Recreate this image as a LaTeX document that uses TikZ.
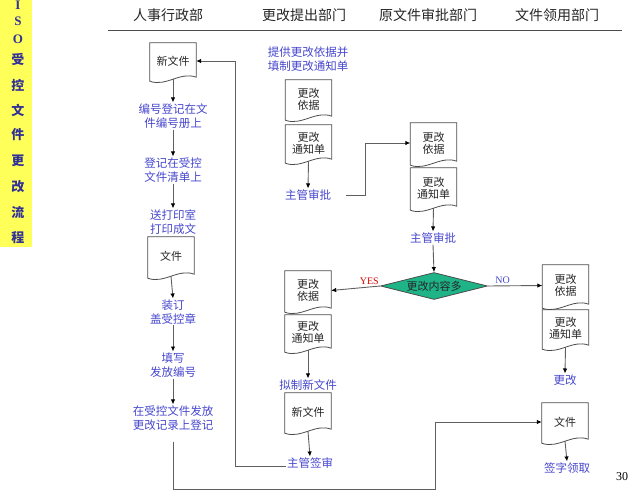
\documentclass[tikz,border=0pt]{standalone}
\usepackage{fontspec}
\setmainfont{Liberation Serif}
\newfontfamily\cjk{Noto Sans CJK SC}
\usetikzlibrary{shapes.geometric,arrows.meta}
\definecolor{lblue}{RGB}{70,70,205}
\definecolor{sbblue}{RGB}{50,50,150}
\definecolor{ylw}{RGB}{255,255,90}
\definecolor{dmd}{RGB}{30,180,135}
\definecolor{lnc}{RGB}{95,95,95}
\newcommand\docshape[1]{\draw[docline] (#1.north west) -- (#1.north east) -- ([yshift=2pt]#1.south east) .. controls ([xshift=-16pt,yshift=8pt]#1.south east) and ([xshift=16pt,yshift=-8pt]#1.south west) .. ([yshift=-2pt]#1.south west) -- cycle;}
\begin{document}
\begin{tikzpicture}[x=1pt,y=-1pt,
  docbox/.style={rectangle, minimum width=46pt, inner sep=0pt, font=\cjk\fontsize{11}{12}\selectfont, align=center, text=black!85},
  lbl/.style={font=\cjk\fontsize{11.5}{14}\selectfont, text=lblue, align=center, inner sep=1pt},
  hdr/.style={font=\cjk\fontsize{14}{16}\selectfont, text=black!85},
  sbc/.style={font=\cjk\bfseries\fontsize{13}{14}\selectfont, text=sbblue, inner sep=0pt},
  sbl/.style={font=\bfseries\fontsize{13}{14}\selectfont, text=sbblue, inner sep=0pt},
  conn/.style={draw=lnc, line width=0.9pt},
  arr/.style={conn, -{Latex[length=5pt,width=4.5pt,color=black]}},
  docline/.style={draw=black!70, line width=0.8pt},
]
\useasboundingbox (0,0) rectangle (640,503);
% sidebar
\fill[ylw] (0,0) rectangle (32,247);
\foreach \yy/\ch [count=\i] in {5/I,21/S,39/O} \node[sbl] (sl\i) at (18,\yy) {\ch};
\foreach \yy/\ch [count=\i] in {59/受,85/控,110/文,135/件,161/更,187/改,212/流,238/程} \node[sbc] (sc\i) at (18,\yy) {\ch};
% header
\node[hdr] (h1) at (168,15) {人事行政部};
\node[hdr] (h2) at (304,15) {更改提出部门};
\node[hdr] (h3) at (428,15) {原文件审批部门};
\node[hdr] (h4) at (557,15) {文件领用部门};
\draw[black!70, line width=0.9pt] (108,30) -- (622,30);
% left column
\node[docbox, minimum height=36pt] (dA) at (173,61) {新文件};
\node[lbl] (l1) at (173,116) {编号登记在文\\件编号册上};
\node[lbl] (l2) at (173,170) {登记在受控\\文件清单上};
\node[lbl] (l3) at (173,222) {送打印室\\打印成文};
\node[docbox, minimum height=39pt] (dB) at (171,256.5) {文件};
\node[lbl] (l4) at (173,312) {装订\\盖受控章};
\node[lbl] (l5) at (173,365) {填写\\发放编号};
\node[lbl] (l6) at (173,418) {在受控文件发放\\更改记录上登记};
% middle column
\node[lbl] (m0) at (308,59) {提供更改依据并\\填制更改通知单};
\node[docbox, minimum height=38pt] (dC) at (308.5,99) {更改\\依据};
\node[docbox, minimum height=36pt] (dD) at (308.5,143) {更改\\通知单};
\node[lbl] (m1) at (308,195) {主管审批};
\node[docbox, minimum height=39pt] (dG) at (308,290.5) {更改\\依据};
\node[docbox, minimum height=35pt] (dH) at (308,332.5) {更改\\通知单};
\node[lbl] (m2) at (308,385) {拟制新文件};
\node[docbox, minimum height=38pt] (dI) at (308,412) {新文件};
\node[lbl] (m3) at (310,463) {主管签审};
% approval column
\node[docbox, minimum height=40pt] (dE) at (433.5,143) {更改\\依据};
\node[docbox, minimum height=40pt] (dF) at (433.5,188) {更改\\通知单};
\node[lbl] (o1) at (433,238) {主管审批};
\node[diamond, aspect=4, minimum width=107pt, minimum height=27pt, inner sep=0pt, fill=dmd, draw=black!70, line width=0.8pt, font=\cjk\fontsize{11}{12}\selectfont, text=black!85] (dm) at (434,286) {更改内容多};
% user column
\node[docbox, minimum height=41pt] (dJ) at (565.5,285.5) {更改\\依据};
\node[docbox, minimum height=37pt] (dK) at (565.5,328.5) {更改\\通知单};
\node[lbl] (r1) at (565,380) {更改};
\node[docbox, minimum height=38pt] (dL) at (565,422) {文件};
\node[lbl] (r2) at (567,468) {签字领取};
\node[font=\fontsize{12}{14}\selectfont] (pg) at (622,477) {30};
% document outlines
\foreach \d in {dA,dB,dC,dD,dE,dF,dG,dH,dI,dJ,dK,dL} {\docshape{\d}}
% helper coordinates
\coordinate (cx1) at (235,0);
\coordinate (cx2) at (365,0);
\coordinate (cb) at (435,489);
% connectors
\draw[arr] (dA.south) -- (l1.north);
\draw[arr] (l1.south) -- (l2.north);
\draw[arr] (l2.south) -- (l3.north);
\draw[arr] (dB.south) -- (l4.north);
\draw[arr] (l4.south) -- (l5.north);
\draw[arr] (l5.south) -- (l6.north);
\draw[arr] (dD.south) -- (m1.north);
\draw[arr] (dF.south) -- (o1.north);
\draw[arr] (o1.south) -- (dm.north);
\draw[arr] (dH.south) -- (m2.north);
\draw[arr] (dI.south) -- (m3.north);
\draw[arr] (dK.south) -- (r1.north);
\draw[arr] (dL.south) -- (r2.north);
\draw[arr] (dm.west) -- node[pos=0.22, above=1pt, font=\fontsize{10}{12}\selectfont, text=red!85!black, inner sep=1pt] {YES} (dG.east);
\draw[arr] (dm.east) -- node[pos=0.27, above=1pt, font=\fontsize{10}{12}\selectfont, text=lblue, inner sep=1pt] {NO} (dJ.west);
\draw[arr] ([yshift=-3pt]m3.west) -- ([yshift=-3pt]m3.west -| cx1) |- (dA.east);
\draw[arr, shorten <=14pt] (m1.east) -- (m1.east -| cx2) |- (dE.west);
\draw[arr, shorten <=10pt] (l6.south) |- (cb) |- (dL.west);
\end{tikzpicture}
\end{document}
